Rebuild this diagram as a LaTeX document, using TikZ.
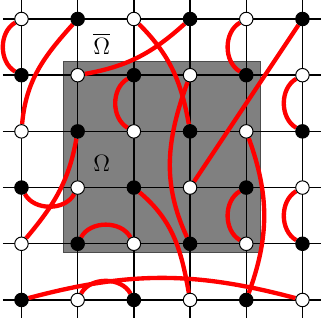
\documentclass[tikz,border=0pt]{standalone}
\usepackage{xcolor}
\usepackage{amssymb}
\usepackage{amsmath}
\usepackage{tikz}
\usetikzlibrary{calc,positioning,backgrounds}
\definecolor{linkcolor}{RGB}{255,0,0}
\definecolor{domaincolor}{RGB}{128,128,128}
\tikzset{
  wdot/.style={circle, draw=black, fill=white, line width=0.5pt, inner sep=0pt, minimum size=0.24cm},
  bdot/.style={circle, draw=black, fill=black, line width=0.5pt, inner sep=0pt, minimum size=0.24cm},
  gridline/.style={black, line width=0.7pt},
  link/.style={linkcolor, line width=2.2pt}
}

\begin{document}
\begin{tikzpicture}
        \useasboundingbox (-0.382,-0.552) rectangle (5.32,5.338);

        \node[wdot] (a6) at (0,5) {}; \node[bdot] (b6) at (1,5) {}; \node[wdot] (c6) at (2,5) {};
        \node[bdot] (d6) at (3,5) {}; \node[wdot] (e6) at (4,5) {}; \node[bdot] (f6) at (5,5) {};

        \node[bdot] (a5) at (0,4) {}; \node[wdot] (b5) at (1,4) {}; \node[bdot] (c5) at (2,4) {};
        \node[wdot] (d5) at (3,4) {}; \node[bdot] (e5) at (4,4) {}; \node[wdot] (f5) at (5,4) {};

        \node[wdot] (a4) at (0,3) {}; \node[bdot] (b4) at (1,3) {}; \node[wdot] (c4) at (2,3) {};
        \node[bdot] (d4) at (3,3) {}; \node[wdot] (e4) at (4,3) {}; \node[bdot] (f4) at (5,3) {};

        \node[bdot] (a3) at (0,2) {}; \node[wdot] (b3) at (1,2) {}; \node[bdot] (c3) at (2,2) {};
        \node[wdot] (d3) at (3,2) {}; \node[bdot] (e3) at (4,2) {}; \node[wdot] (f3) at (5,2) {};

        \node[wdot] (a2) at (0,1) {}; \node[bdot] (b2) at (1,1) {}; \node[wdot] (c2) at (2,1) {};
        \node[bdot] (d2) at (3,1) {}; \node[wdot] (e2) at (4,1) {}; \node[bdot] (f2) at (5,1) {};

        \node[bdot] (a1) at (0,0) {}; \node[wdot] (b1) at (1,0) {}; \node[bdot] (c1) at (2,0) {};
        \node[wdot] (d1) at (3,0) {}; \node[bdot] (e1) at (4,0) {}; \node[wdot] (f1) at (5,0) {};

        \begin{scope}[on background layer]
            \draw[draw=black!70, line width=0.4pt, fill=domaincolor] (0.75,0.85) rectangle (4.25,4.25);

            \draw[gridline] (-0.33,0) -- (5.33,0);
            \draw[gridline] (-0.33,1) -- (5.33,1);
            \draw[gridline] (-0.33,2) -- (5.33,2);
            \draw[gridline] (-0.33,3) -- (5.33,3);
            \draw[gridline] (-0.33,4) -- (5.33,4);
            \draw[gridline] (-0.33,5) -- (5.33,5);
            \draw[gridline] (0,-0.32) -- (0,5.34);
            \draw[gridline] (1,-0.32) -- (1,5.34);
            \draw[gridline] (2,-0.32) -- (2,5.34);
            \draw[gridline] (3,-0.32) -- (3,5.34);
            \draw[gridline] (4,-0.32) -- (4,5.34);
            \draw[gridline] (5,-0.32) -- (5,5.34);

            \draw[link] (a6) to[bend right=60] (a5);
            \draw[link] (b6) to[out=228, in=85] (a4);
            \draw[link] (c6) to[out=-45, in=100] (d4);
            \draw[link] (d6) to[out=222, in=10] (b5);
            \draw[link] (e6) to[bend right=60] (e5);
            \draw[link] (f6) -- (d3);
            \draw[link] (f5) to[bend right=60] (f4);
            \draw[link] (c5) to[bend right=60] (c4);
            \draw[link] (d5) to[out=250, in=115] (d2);
            \draw[link] (b4) to[out=260, in=50] (a2);
            \draw[link] (a3) to[bend right=62] (b3);
            \draw[link] (c3) to[out=-40, in=100] (d1);
            \draw[link] (e4) to[bend left=20] (e1);
            \draw[link] (e3) to[bend right=60] (e2);
            \draw[link] (f3) to[bend right=60] (f2);
            \draw[link] (b2) to[bend left=62] (c2);
            \draw[link] (a1) to[bend left=15] (f1);
            \draw[link] (b1) to[bend left=62] (c1);
        \end{scope}

        \node[font=\fontsize{13pt}{15pt}\selectfont] (omegabar) at (1.43,4.56) {$\overline{\Omega}$};
        \node[font=\fontsize{13pt}{15pt}\selectfont] (omega) at (1.43,2.43) {$\Omega$};
    \end{tikzpicture}
\end{document}
